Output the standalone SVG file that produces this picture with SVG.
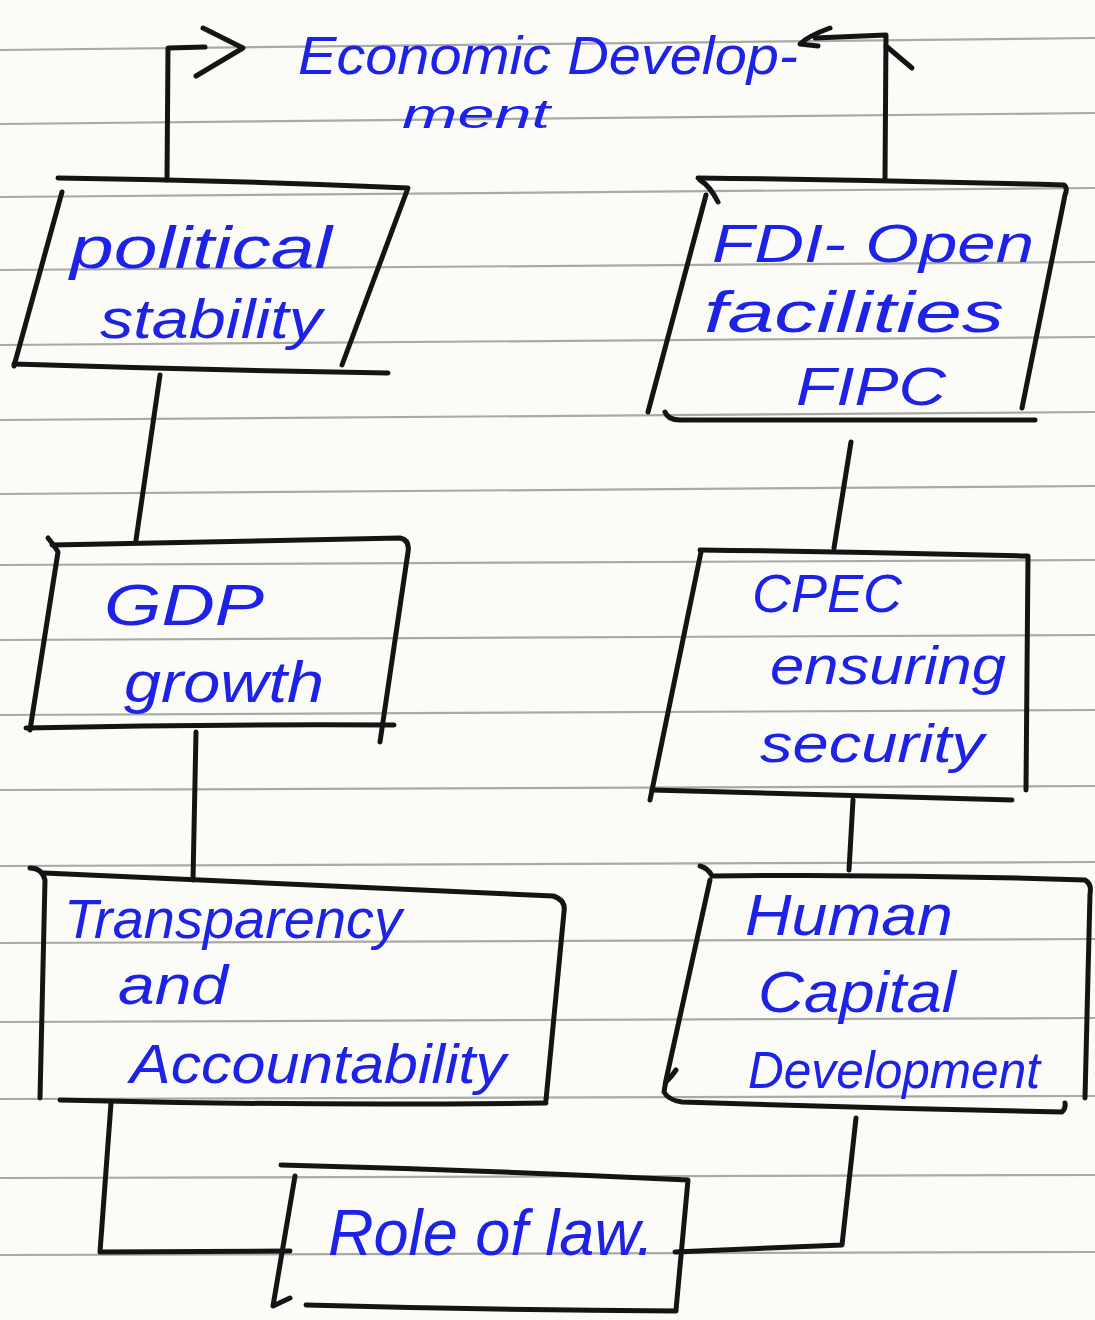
<svg xmlns="http://www.w3.org/2000/svg" width="1095" height="1320" viewBox="0 0 1095 1320">
<defs>
<style>
.paper{fill:#fbfbf8}
.rule{stroke:#a9a9a6;stroke-width:2.2;fill:none}
.ink{stroke:#141414;stroke-width:5;fill:none;stroke-linecap:round;stroke-linejoin:round}
.t{fill:#1d22e6;font-family:"Liberation Sans","DejaVu Sans",sans-serif;font-style:italic;font-weight:normal}
</style>
</defs>
<rect class="paper" x="0" y="0" width="1095" height="1320"/>
<g id="rules">
<line class="rule" x1="0" y1="50" x2="1095" y2="38"/>
<line class="rule" x1="0" y1="124" x2="1095" y2="113"/>
<line class="rule" x1="0" y1="197" x2="1095" y2="188"/>
<line class="rule" x1="0" y1="270" x2="1095" y2="262"/>
<line class="rule" x1="0" y1="345" x2="1095" y2="337"/>
<line class="rule" x1="0" y1="420" x2="1095" y2="412"/>
<line class="rule" x1="0" y1="494" x2="1095" y2="486"/>
<line class="rule" x1="0" y1="565" x2="1095" y2="560"/>
<line class="rule" x1="0" y1="640" x2="1095" y2="635"/>
<line class="rule" x1="0" y1="715" x2="1095" y2="710"/>
<line class="rule" x1="0" y1="790" x2="1095" y2="786"/>
<line class="rule" x1="0" y1="866" x2="1095" y2="862"/>
<line class="rule" x1="0" y1="943" x2="1095" y2="939"/>
<line class="rule" x1="0" y1="1022" x2="1095" y2="1018"/>
<line class="rule" x1="0" y1="1099" x2="1095" y2="1096"/>
<line class="rule" x1="0" y1="1178" x2="1095" y2="1175"/>
<line class="rule" x1="0" y1="1255" x2="1095" y2="1252"/>
</g>
<g id="connectors">
<path class="ink" d="M167 180 L168 48 L205 47"/>
<path class="ink" d="M203 28 L243 48 L196 76"/>
<path class="ink" d="M885 178 L886 35 L815 38"/>
<path class="ink" d="M830 28 Q808 36 800 44 L818 46"/>
<path class="ink" d="M886 46 L912 68"/>
<path class="ink" d="M160 375 L136 540"/>
<path class="ink" d="M196 732 L193 880"/>
<path class="ink" d="M111 1103 L100 1252 L290 1251"/>
<path class="ink" d="M851 442 L834 548"/>
<path class="ink" d="M853 800 L849 870"/>
<path class="ink" d="M856 1118 L842 1245 L675 1252"/>
</g>
<g id="econ">
<text class="t" x="298" y="74" font-size="54" textLength="500" lengthAdjust="spacingAndGlyphs">Economic Develop-</text>
<text class="t" x="402" y="128" font-size="40" textLength="148" lengthAdjust="spacingAndGlyphs">ment</text>
</g>
<g id="political">
<path class="ink" d="M58 178 Q230 180 408 188 L342 365"/>
<path class="ink" d="M62 192 L14 366"/>
<path class="ink" d="M14 364 Q200 370 388 373"/>
<text class="t" x="70" y="268" font-size="60" textLength="262" lengthAdjust="spacingAndGlyphs">political</text>
<text class="t" x="100" y="338" font-size="56" textLength="222" lengthAdjust="spacingAndGlyphs">stability</text>
</g>
<g id="gdp">
<path class="ink" d="M48 538 Q56 548 58 552 L30 730"/>
<path class="ink" d="M52 545 Q230 542 400 538 Q410 540 408 552 L380 742"/>
<path class="ink" d="M26 728 Q210 724 394 725"/>
<text class="t" x="104" y="625" font-size="58" textLength="160" lengthAdjust="spacingAndGlyphs">GDP</text>
<text class="t" x="124" y="702" font-size="58" textLength="200" lengthAdjust="spacingAndGlyphs">growth</text>
</g>
<g id="transparency">
<path class="ink" d="M30 868 Q42 868 45 880 L40 1098"/>
<path class="ink" d="M44 873 Q300 884 553 896 Q566 900 564 912 L546 1100"/>
<path class="ink" d="M60 1100 Q300 1106 546 1103"/>
<text class="t" x="64" y="938" font-size="56" textLength="338" lengthAdjust="spacingAndGlyphs">Transparency</text>
<text class="t" x="118" y="1004" font-size="56" textLength="110" lengthAdjust="spacingAndGlyphs">and</text>
<text class="t" x="130" y="1083" font-size="56" textLength="376" lengthAdjust="spacingAndGlyphs">Accountability</text>
</g>
<g id="rule-of-law">
<path class="ink" d="M281 1165 Q480 1170 688 1180 L676 1310"/>
<path class="ink" d="M295 1176 L273 1306 L290 1298"/>
<path class="ink" d="M306 1305 Q490 1310 676 1311"/>
<text class="t" x="328" y="1255" font-size="64" textLength="326" lengthAdjust="spacingAndGlyphs">Role of law.</text>
</g>
<g id="fdi">
<path class="ink" d="M698 178 Q882 180 1064 185 Q1068 188 1065 195 L1022 408"/>
<path class="ink" d="M700 180 Q710 186 718 202"/>
<path class="ink" d="M706 195 L648 412"/>
<path class="ink" d="M665 412 Q668 420 680 420 L1035 420"/>
<text class="t" x="712" y="262" font-size="54" textLength="322" lengthAdjust="spacingAndGlyphs">FDI- Open</text>
<text class="t" x="704" y="332" font-size="58" textLength="300" lengthAdjust="spacingAndGlyphs">facilities</text>
<text class="t" x="796" y="405" font-size="54" textLength="150" lengthAdjust="spacingAndGlyphs">FIPC</text>
</g>
<g id="cpec">
<path class="ink" d="M700 550 Q865 552 1028 556 L1026 790"/>
<path class="ink" d="M701 552 L650 800"/>
<path class="ink" d="M652 790 Q830 795 1012 800"/>
<text class="t" x="752" y="612" font-size="54" textLength="150" lengthAdjust="spacingAndGlyphs">CPEC</text>
<text class="t" x="770" y="684" font-size="54" textLength="236" lengthAdjust="spacingAndGlyphs">ensuring</text>
<text class="t" x="760" y="762" font-size="54" textLength="224" lengthAdjust="spacingAndGlyphs">security</text>
</g>
<g id="human">
<path class="ink" d="M700 866 Q708 868 712 876 Q900 874 1085 880 Q1092 884 1090 894 L1085 1098"/>
<path class="ink" d="M710 880 L666 1080 L664 1092 Q668 1100 682 1102 Q870 1108 1062 1112 Q1066 1108 1065 1103"/>
<path class="ink" d="M666 1082 Q672 1076 676 1070"/>
<text class="t" x="745" y="935" font-size="58" textLength="208" lengthAdjust="spacingAndGlyphs">Human</text>
<text class="t" x="758" y="1012" font-size="58" textLength="198" lengthAdjust="spacingAndGlyphs">Capital</text>
<text class="t" x="748" y="1088" font-size="52" textLength="292" lengthAdjust="spacingAndGlyphs">Development</text>
</g>
</svg>
